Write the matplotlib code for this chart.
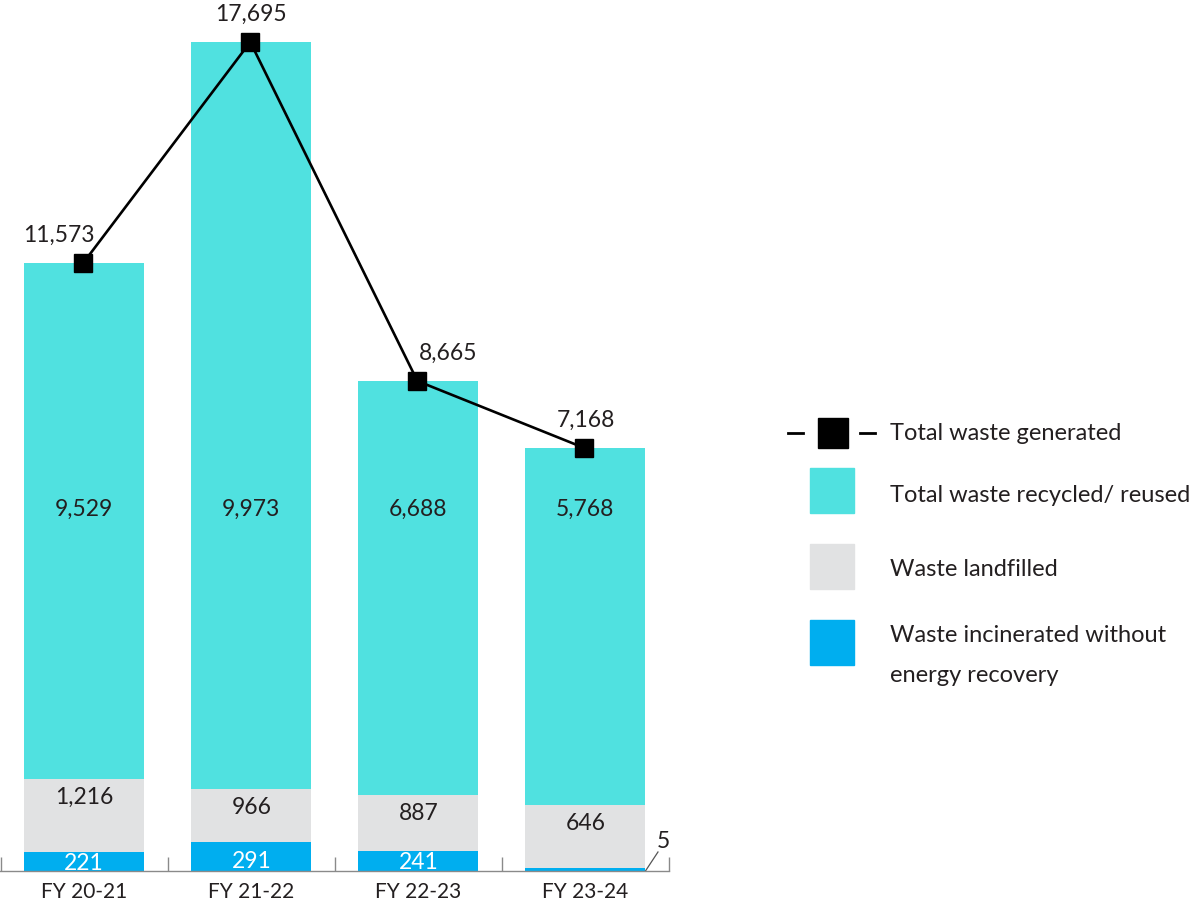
import numpy as np
import matplotlib.pyplot as plt
from matplotlib.patches import Rectangle
from matplotlib.lines import Line2D

plt.rcParams["font.family"] = ["Lato", "DejaVu Sans"]

years = ["FY 20-21", "FY 21-22", "FY 22-23", "FY 23-24"]
total_generated = [11573, 17695, 8665, 7168]
recycled = [9529, 9973, 6688, 5768]
landfilled = [1216, 966, 887, 646]
incinerated = [221, 291, 241, 5]

# the source does not draw its bars to scale: segment heights
incinerated_h = [19, 29, 20, 3]
landfilled_h = [73, 53, 56, 63]
recycled_h = [516, 747, 414, 357]

c_recycled = "#50E1E0"
c_landfill = "#E1E2E3"
c_incin = "#00AEEF"
c_text = "#231F20"

fig = plt.figure(figsize=(12, 9.09), dpi=100)
W, H = 1200, 909
ax = fig.add_axes([0, 38 / H, 669 / W, 871 / H])

x = np.arange(len(years))
width = 0.718
inc = np.array(incinerated_h)
lan = np.array(landfilled_h)
rec = np.array(recycled_h)

ax.bar(x, inc, width, color=c_incin, zorder=2)
ax.bar(x, lan, width, bottom=inc, color=c_landfill, zorder=2)
ax.bar(x, rec, width, bottom=inc + lan, color=c_recycled, zorder=2)

tops = inc + lan + rec
ax.plot(x - 0.006, tops, color="black", lw=1.9, marker="s", markersize=13.5,
        zorder=4)

fmt = lambda v: f"{v:,}"
label_dx = [-0.153, 0.0, 0.18, 0.0]
inc_base = [0.5, 3, 2]
for i in range(len(years)):
    ax.text(x[i] + label_dx[i], tops[i] + 28, fmt(total_generated[i]),
            ha="center", va="center", fontsize=16.5, color=c_text)
    ax.text(x[i], 362, fmt(recycled[i]), ha="center", va="center",
            fontsize=16.5, color=c_text, zorder=5)
    ax.text(x[i], inc[i] + lan[i] - 18, fmt(landfilled[i]), ha="center",
            va="center", fontsize=16.5, color=c_text, zorder=5)
    if i < 3:
        ax.text(x[i], inc_base[i], fmt(incinerated[i]), ha="center",
                va="baseline", fontsize=16.5, color="white", zorder=5,
                clip_on=True)

# leader line for the tiny last value
ax.plot([x[3] + width / 2, x[3] + width / 2 + 0.075], [0, 19], color="#555555",
        lw=0.9, clip_on=False, zorder=5)
ax.text(x[3] + width / 2 + 0.065, 29, fmt(incinerated[3]), ha="left",
        va="center", fontsize=16.5, color=c_text)

ax.set_xlim(-0.504, 3.497)
ax.set_ylim(0, 871)
for s in ["top", "right", "left"]:
    ax.spines[s].set_visible(False)
ax.spines["bottom"].set_color("#8a8a8a")
ax.spines["bottom"].set_linewidth(1.0)
ax.spines["bottom"].set_zorder(6)
ax.set_yticks([])
ax.set_xticks(x)
ax.set_xticklabels(years, fontsize=15, color=c_text)
ax.tick_params(axis="x", which="major", length=0, pad=8)
ax.set_xticks(np.arange(-0.5, 4.0, 1.0), minor=True)
ax.tick_params(axis="x", which="minor", direction="in", length=10,
               width=1.0, color="#8a8a8a")
ax.set_facecolor("none")

# legend drawn in figure pixels
lax = fig.add_axes([0, 0, 1, 1])
lax.set_xlim(0, W)
lax.set_ylim(H, 0)
lax.axis("off")
lax.add_line(Line2D([788, 803], [433, 433], color="black", lw=2))
lax.add_line(Line2D([860, 875], [433, 433], color="black", lw=2))
lax.add_patch(Rectangle((818, 418), 30, 30, color="black"))
lax.text(890, 433, "Total waste generated", va="center", ha="left",
         fontsize=17, color=c_text)
legend_rows = [
    (468, c_recycled, ["Total waste recycled/ reused"], [495]),
    (544, c_landfill, ["Waste landfilled"], [570]),
    (620, c_incin, ["Waste incinerated without", "energy recovery"], [635, 675]),
]
for y0, col, texts, ys in legend_rows:
    lax.add_patch(Rectangle((810, y0), 44, 45, color=col))
    for t, yy in zip(texts, ys):
        lax.text(890, yy, t, va="center", ha="left", fontsize=17, color=c_text)

fig.savefig("out.png", dpi=100)
